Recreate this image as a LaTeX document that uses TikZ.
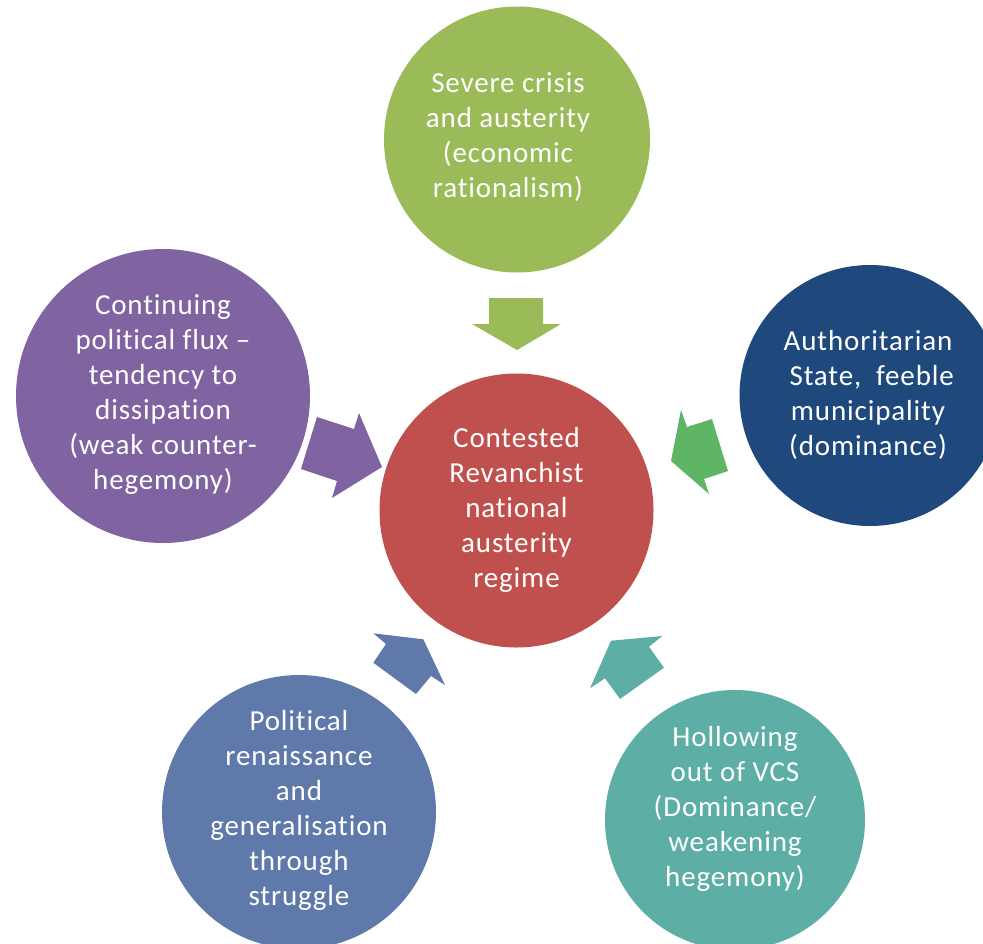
\documentclass[tikz,border=0pt]{standalone}
\usepackage{fontspec}
\setmainfont[Ligatures=NoCommon,LetterSpace=3]{Carlito}
\definecolor{cgreen}{HTML}{9BBB59}
\definecolor{cred}{HTML}{C0504D}
\definecolor{cnavy}{HTML}{1F497D}
\definecolor{cpurple}{HTML}{8064A2}
\definecolor{cblue}{HTML}{5F7AAA}
\definecolor{cteal}{HTML}{5DAEA5}
\definecolor{cleaf}{HTML}{5DB565}
\begin{document}
\begin{tikzpicture}[x=1pt,y=-1pt,
  circ/.style={circle, inner sep=0pt},
  txt/.style={inner sep=0pt, text=white, align=center,
    font=\fontsize{29}{35}\selectfont}]
\useasboundingbox (0,0) rectangle (983,943);
\clip (0,0) rectangle (983,943);
% circles
\node[circ, fill=cgreen, minimum size=266pt] (top) at (517,139.5) {};
\node[txt] (toptext) at (508,137) {Severe crisis\\and austerity\\(economic\\rationalism)};
\node[circ, fill=cred, minimum size=274pt] (mid) at (516.5,510.5) {};
\node[txt] (midtext) at (516.5,510) {Contested\\Revanchist\\national\\austerity\\regime};
\node[circ, fill=cnavy, minimum size=261pt] (right) at (870,395.5) {};
\node[txt] (righttext) at (868,395) {Authoritarian\\~State,~~feeble\\municipality\\(dominance)};
\node[circ, fill=cpurple, minimum size=294pt] (left) at (163,396) {};
\node[txt] (lefttext) at (163,395) {Continuing\\political flux –\\tendency to\\dissipation\\(weak counter-\\hegemony)};
\node[circ, fill=cblue, minimum size=274pt] (bl) at (299,812) {};
\node[txt] (bltext) at (299,810) {Political\\renaissance\\and\\generalisation\\through\\struggle};
\node[circ, fill=cteal, minimum size=260pt] (br) at (735,820) {};
\node[txt] (brtext) at (735,809) {Hollowing\\out of VCS\\(Dominance/\\weakening\\hegemony)};
% block arrows
\fill[cgreen] (489,298) -- (543,298) -- (543,324) -- (561,324) -- (517,350)
  -- (472,324) -- (489,324) -- cycle;
\fill[cpurple] (317,417) -- (354,429) -- (359,413) -- (382,467) -- (332,498)
  -- (337,481) -- (301,469) -- cycle;
\fill[cleaf] (681,410) -- (687,427) -- (712,419) -- (728,471) -- (704,479)
  -- (709,494) -- (671,461) -- cycle;
\fill[cblue] (373.3,633.3) -- (423.3,639.3) -- (445,685) -- (431,676)
  -- (416,694) -- (373.3,662.7) -- (386,644) -- cycle;
\fill[cteal] (611,640.7) -- (662.3,636) -- (649,646.7) -- (664,667.7)
  -- (620,699) -- (605,678.3) -- (590,688.3) -- cycle;
\end{tikzpicture}
\end{document}
